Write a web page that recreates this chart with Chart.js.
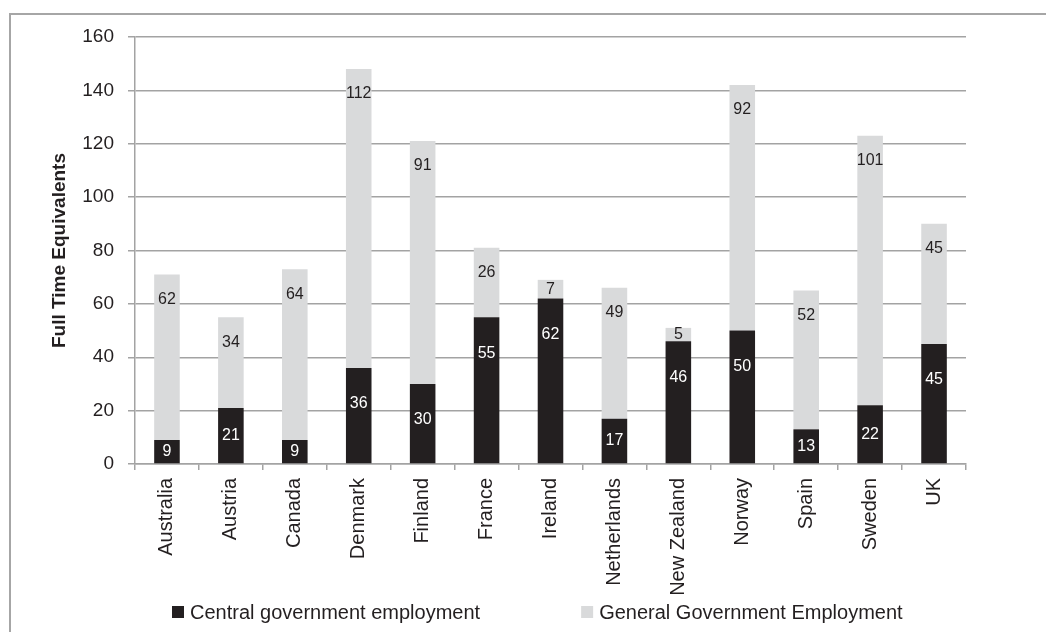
<!DOCTYPE html>
<html lang="en">
<head>
    <meta charset="UTF-8">
    <title>Full Time Equivalents - central and general government employment</title>
    <script src="https://cdn.jsdelivr.net/npm/chart.js"></script>
    <style>
        html, body {
            margin: 0;
            padding: 0;
            background: #fff;
        }
        .frame {
            position: absolute;
            left: 9px;
            top: 13px;
            width: 1037px;
            height: 619px;
            border-top: 2px solid #a6a6a6;
            border-left: 2px solid #a6a6a6;
            pointer-events: none;
        }
        .wrap {
            position: absolute;
            left: 0;
            top: 0;
            width: 1046px;
            height: 632px;
        }
    </style>
</head>
<body>
    <div class="wrap"><canvas id="fteChart" width="1046" height="632"></canvas></div>
    <div class="frame"></div>

    <script>
        // values
        const countries = ['Australia', 'Austria', 'Canada', 'Denmark', 'Finland', 'France', 'Ireland',
            'Netherlands', 'New Zealand', 'Norway', 'Spain', 'Sweden', 'UK'];
        const centralEmployment = [9, 21, 9, 36, 30, 55, 62, 17, 46, 50, 13, 22, 45];
        const generalEmployment = [62, 34, 64, 112, 91, 26, 7, 49, 5, 92, 52, 101, 45];
        const yTicks = [0, 20, 40, 60, 80, 100, 120, 140, 160];

        const FONT = "'Liberation Sans', Arial, sans-serif";
        const TEXT = '#231f20';
        const gridColor = '#a3a3a3';

        // value labels inside the bar segments
        const segmentLabels = {
            id: 'segmentLabels',
            afterDatasetsDraw(chart) {
                const ctx = chart.ctx;
                ctx.save();
                ctx.font = '16px ' + FONT;
                ctx.textAlign = 'center';
                ctx.textBaseline = 'middle';
                chart.data.datasets.forEach((ds, i) => {
                    const meta = chart.getDatasetMeta(i);
                    meta.data.forEach((bar, j) => {
                        const top = Math.min(bar.y, bar.base);
                        const bottom = Math.max(bar.y, bar.base);
                        const mid = (top + bottom) / 2;
                        const y = i === 0 ? Math.min(mid, top + 36) : Math.min(mid, top + 25);
                        ctx.fillStyle = i === 0 ? '#ffffff' : TEXT;
                        ctx.fillText(ds.data[j], bar.x, y);
                    });
                });
                ctx.restore();
            }
        };

        // simple legend under the axis labels, two items far apart
        const bottomLegend = {
            id: 'bottomLegend',
            afterDraw(chart) {
                const ctx = chart.ctx;
                ctx.save();
                ctx.font = '20px ' + FONT;
                ctx.textBaseline = 'middle';
                const y = chart.height - 20;
                let x = 172;
                chart.data.datasets.forEach(ds => {
                    ctx.fillStyle = ds.backgroundColor;
                    ctx.fillRect(x, y - 6, 12, 12);
                    ctx.fillStyle = TEXT;
                    ctx.fillText(ds.label, x + 18, y + 1);
                    x += 18 + ctx.measureText(ds.label).width + 101;
                });
                ctx.restore();
            }
        };

        const ctx = document.getElementById('fteChart').getContext('2d');
        const chart = new Chart(ctx, {
            type: 'bar',
            data: {
                labels: countries,
                datasets: [{
                    label: 'Central government employment',
                    data: centralEmployment,
                    backgroundColor: '#231f20',
                    categoryPercentage: 1,
                    barPercentage: 0.4
                }, {
                    label: 'General Government Employment',
                    data: generalEmployment,
                    backgroundColor: '#d9dadb',
                    categoryPercentage: 1,
                    barPercentage: 0.4
                }]
            },
            options: {
                responsive: false,
                animation: false,
                layout: {
                    padding: { top: 37, right: 80, bottom: 36, left: 0 }
                },
                plugins: {
                    legend: { display: false },
                    tooltip: { enabled: false }
                },
                scales: {
                    x: {
                        stacked: true,
                        grid: {
                            offset: true,
                            drawOnChartArea: false,
                            tickLength: 6,
                            color: gridColor,
                            lineWidth: 1.5
                        },
                        border: { color: gridColor, width: 1.5 },
                        ticks: {
                            color: TEXT,
                            minRotation: 90,
                            maxRotation: 90,
                            padding: 8,
                            autoSkip: false,
                            font: { family: FONT, size: 20 }
                        },
                        afterFit(scale) { scale.height = 132; }
                    },
                    y: {
                        stacked: true,
                        min: 0,
                        max: 160,
                        afterBuildTicks(scale) { scale.ticks = yTicks.map(v => ({ value: v })); },
                        grid: {
                            tickLength: 7,
                            color: gridColor,
                            lineWidth: 1.5
                        },
                        border: { color: gridColor, width: 1.5 },
                        ticks: {
                            color: TEXT,
                            padding: 14,
                            autoSkip: false,
                            font: { family: FONT, size: 19 }
                        },
                        title: {
                            display: true,
                            text: 'Full Time Equivalents',
                            color: TEXT,
                            padding: { top: 48, bottom: 0 },
                            font: { family: FONT, size: 19, weight: 'bold' }
                        },
                        afterFit(scale) { scale.width = 135; }
                    }
                }
            },
            plugins: [segmentLabels, bottomLegend]
        });
    </script>
</body>
</html>
